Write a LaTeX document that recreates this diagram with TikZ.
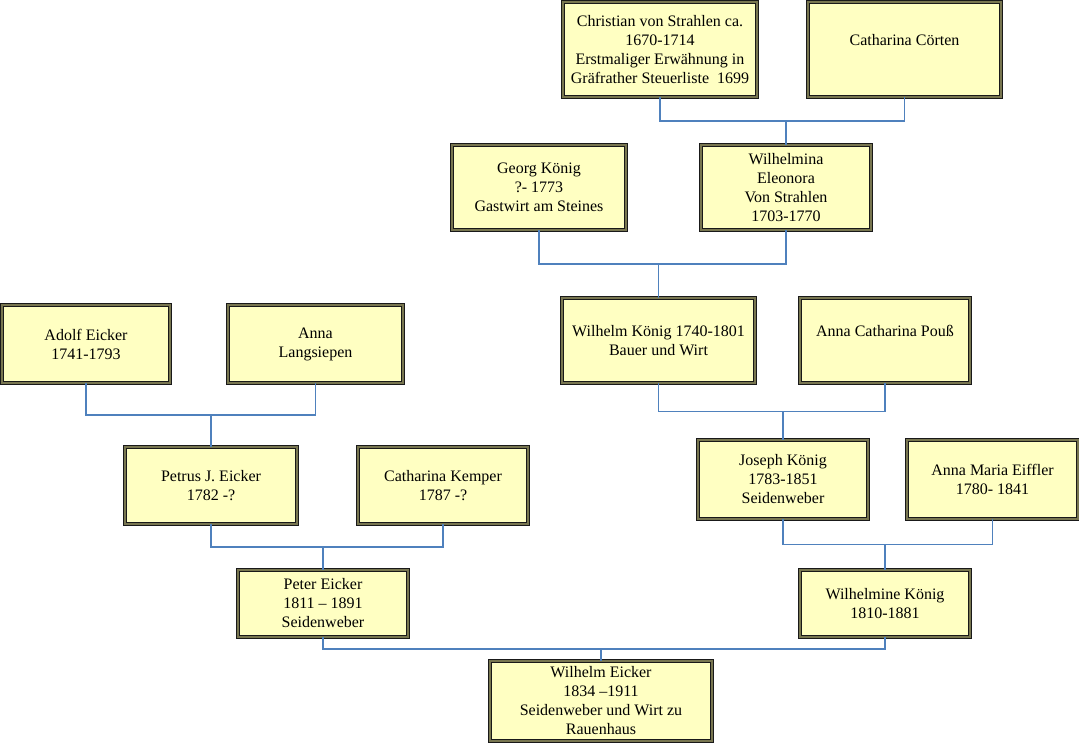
\documentclass[tikz,border=0pt]{standalone}
\usepackage{fontspec}
\setmainfont{Liberation Serif}
\usetikzlibrary{calc}
\definecolor{boxfill}{RGB}{255,255,194}
\definecolor{boxband}{RGB}{120,118,80}
\definecolor{linkblue}{RGB}{79,129,189}
\tikzset{
  person/.style = {draw=black!90, double=boxband, double distance=1.8pt, line width=0.8pt,
                   fill=boxfill, align=center, inner sep=0pt,
                   font=\fontsize{16}{19}\selectfont},
  link/.style   = {draw=linkblue, line width=1.1pt},
}
\begin{document}
\begin{tikzpicture}[x=1pt, y=-1pt]
  \useasboundingbox (0,0) rectangle (1079,742);
  % persons: name / centre x / centre y / width / height / text
  \foreach \n/\x/\y/\w/\h/\t in {
      chris/660/49.5/194/95/{Christian von Strahlen ca.\\1670-1714\\Erstmaliger Erwähnung in\\Gräfrather Steuerliste\ \ 1699},
      cath/904.5/49.5/193/95/{Catharina Cörten\\\mbox{}},
      georg/539/187.5/174/85/{Georg König\\?- 1773\\Gastwirt am Steines},
      wmina/786/187.5/170/85/{Wilhelmina\\Eleonora\\Von Strahlen\\1703-1770},
      adolf/86/344/168/78/{Adolf Eicker\\1741-1793},
      anna/315.5/344/175/78/{Anna\\Langsiepen},
      wkoenig/658.5/340.5/193/85/{Wilhelm König 1740-1801\\Bauer und Wirt},
      pouss/885/340.5/170/85/{Anna Catharina Pouß\\\mbox{}},
      petrus/211/485.5/172/77/{Petrus J. Eicker\\1782 -?},
      kemper/443/485.5/170/77/{Catharina Kemper\\1787 -?},
      joseph/783/479.5/170/79/{Joseph König\\1783-1851\\Seidenweber},
      eiffler/992.5/479.5/171/79/{Anna Maria Eiffler\\1780- 1841},
      peter/323/603.5/170/67/{Peter Eicker\\1811 – 1891\\Seidenweber},
      wmine/885/603.5/170/67/{Wilhelmine König\\1810-1881},
      weicker/601/701/222/80/{Wilhelm Eicker\\1834 –1911\\Seidenweber und Wirt zu\\Rauenhaus}} {
    \node[person, minimum width=\w, minimum height=\h] (\n) at (\x,\y) {\t};
  }
  % families: father / mother / child
  \foreach \f/\m/\c in {chris/cath/wmina, georg/wmina/wkoenig, adolf/anna/petrus,
                        wkoenig/pouss/joseph, petrus/kemper/peter, joseph/eiffler/wmine,
                        peter/wmine/weicker} {
    \coordinate (bar-\c) at ($(\f.south)!0.5!(\c.north)$);
    \draw[link] (\f.south) |- (\c.north |- bar-\c) -| (\m.south);
    \draw[link] (\c.north) -- (\c.north |- bar-\c);
  }
\end{tikzpicture}
\end{document}
